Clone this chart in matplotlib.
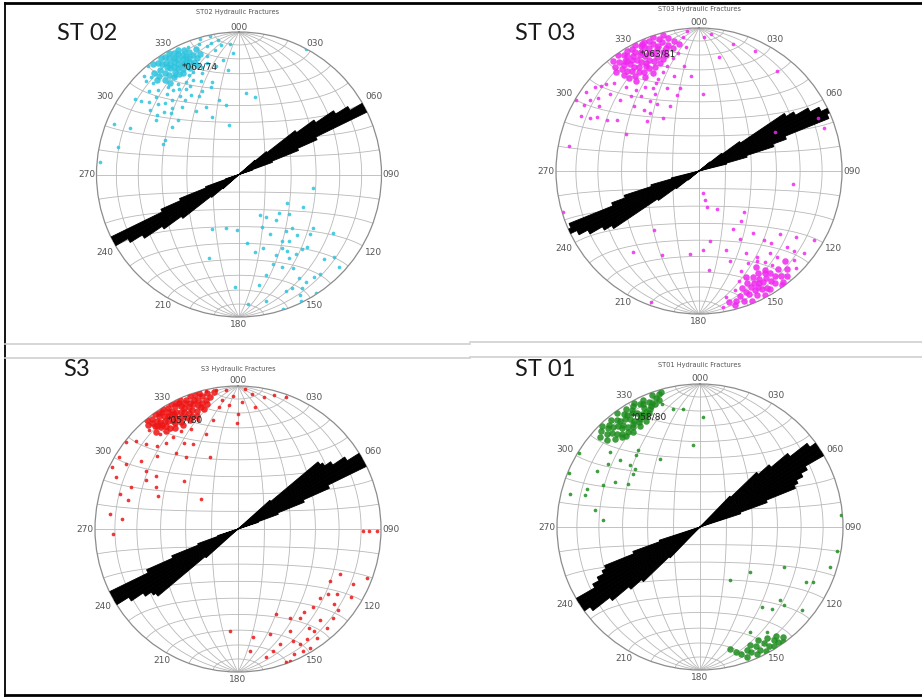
import numpy as np
import matplotlib
matplotlib.use("Agg")
import matplotlib.pyplot as plt
from matplotlib.lines import Line2D

FIG_W, FIG_H = 922, 700

# ---------------- text / categories ----------------
PANEL_LABELS = ["ST 02", "ST 03", "S3", "ST 01"]
PANEL_TITLES = ["ST02 Hydraulic Fractures", "ST03 Hydraulic Fractures",
                "S3 Hydraulic Fractures", "ST01 Hydraulic Fractures"]
MEAN_PLANES = ["062/74", "063/81", "057/80", "058/80"]      # strike/dip of mean plane
POINT_COLORS = ["#2cc3de", "#f028f0", "#ee1414", "#1e8c1e"]
AZIMUTH_TICKS = [0, 30, 60, 90, 120, 150, 180, 210, 240, 270, 300, 330]
AZIMUTH_LABELS = ["000", "030", "060", "090", "120", "150",
                  "180", "210", "240", "270", "300", "330"]

# ---------------- rose diagrams (2 deg bins, relative length) ----------------
ROSE_BINS = [45, 47, 49, 51, 53, 55, 57, 59, 61, 63, 65, 67, 69, 71, 73, 75]
ROSE_ST02 = [0.00, 0.00, 0.15, 0.25, 0.50, 0.65, 0.80, 0.90, 1.00, 1.00, 0.60, 0.45, 0.25, 0.10, 0.00, 0.00]
ROSE_ST03 = [0.00, 0.00, 0.00, 0.10, 0.20, 0.35, 0.72, 0.78, 0.88, 0.95, 1.00, 0.98, 0.65, 0.55, 0.35, 0.20]
ROSE_S3 = [0.00, 0.00, 0.30, 0.73, 0.75, 0.80, 0.90, 1.00, 1.02, 1.00, 0.70, 0.50, 0.30, 0.15, 0.00, 0.00]
ROSE_ST01 = [0.30, 0.55, 0.65, 0.80, 0.95, 1.00, 1.02, 1.00, 0.85, 0.80, 0.75, 0.72, 0.50, 0.30, 0.00, 0.00]

# ---------------- poles (trend, plunge) ----------------
ST02_CORE = [
    (322, 2), (324, 4), (326, 2), (328, 3), (330, 2), (332, 4), (334, 3), (336, 5), (325, 6), (327, 7),
    (329, 5), (331, 7), (333, 6), (335, 8), (323, 9), (326, 10), (328, 9), (330, 10), (332, 9), (334, 11),
    (336, 10), (338, 8), (321, 12), (324, 13), (327, 12), (329, 13), (331, 12), (333, 14), (335, 13), (337, 12),
    (339, 11), (340, 14), (325, 16), (328, 16), (330, 15), (332, 17), (334, 16), (336, 15), (338, 16), (322, 17),
    (326, 19), (329, 19), (331, 20), (335, 19), (339, 19), (342, 12), (341, 8), (320, 8), (319, 13), (323, 21)]
ST02_SPREAD = [
    (307, 15), (306, 24), (316, 19), (314, 29), (312, 36), (324, 36), (333, 38), (334, 46), (335, 53),
    (345, 45), (348, 61), (349, 49), (312, 42), (334, 27), (340, 25), (348, 23), (352, 20), (354, 27),
    (357, 16), (356, 9), (348, 1), (344, 1), (351, 5), (5, 42), (12, 44), (295, 42), (292, 42), (292, 6),
    (293, 18), (283, 14), (275, 2), (306, 11), (303, 31), (305, 42), (28, 0), (348, 6), (320, 1), (315, 8),
    (328, 30), (326, 45), (323, 32), (321, 22), (313, 21), (344, 33), (336, 36), (327, 19), (337, 16),
    (318, 25), (322, 26), (326, 24), (330, 26), (333, 23), (336, 22), (341, 21), (344, 20), (318, 30),
    (325, 28), (331, 30), (338, 30), (342, 36), (315, 34), (320, 38), (329, 35), (317, 13), (313, 15),
    (309, 20), (311, 26), (343, 5), (346, 8), (338, 4), (316, 4), (318, 9), (345, 15), (349, 12), (352, 9),
    (310, 32), (306, 30)]
ST02_SOUTH = [
    (206, 55), (194, 58), (182, 58), (173, 50), (153, 64), (148, 61), (156, 57), (153, 51), (141, 56),
    (121, 58), (128, 53), (135, 46), (117, 48), (100, 46), (126, 36), (130, 35), (137, 31), (140, 32),
    (144, 32), (149, 32), (148, 37), (150, 40), (155, 38), (159, 33), (155, 29), (150, 25), (150, 17),
    (148, 12), (144, 12), (151, 10), (155, 13), (158, 13), (153, 6), (147, 1), (135, 17), (122, 23),
    (133, 5), (141, 11), (162, 45), (168, 44), (165, 28), (170, 22), (168, 10), (176, 10), (182, 22),
    (200, 38), (154, 1), (162, 1), (147, 44), (143, 41), (136, 41), (140, 47), (134, 58), (131, 13)]

ST03_CORE = [
    (322, 3), (325, 1), (327, 4), (329, 2), (331, 3), (333, 1), (335, 4), (337, 2), (339, 3), (341, 1),
    (343, 4), (345, 2), (347, 5), (321, 7), (324, 6), (326, 8), (328, 6), (330, 8), (332, 6), (334, 8),
    (336, 6), (338, 8), (340, 6), (342, 9), (344, 7), (346, 10), (349, 8), (320, 11), (323, 12), (325, 10),
    (327, 12), (329, 10), (331, 12), (333, 10), (335, 12), (337, 11), (339, 13), (341, 11), (343, 14), (345, 12),
    (348, 13), (351, 11), (322, 16), (324, 15), (326, 17), (328, 15), (330, 17), (332, 15), (334, 17), (336, 16),
    (338, 18), (340, 16), (342, 19), (344, 17), (323, 20), (326, 21), (329, 20), (331, 22), (334, 21), (337, 22),
    (340, 21), (325, 24), (330, 25), (335, 25), (333, 19), (327, 9), (336, 3)]
ST03_SPREAD = [
    (300, 1), (305, 4), (311, 10), (295, 10), (298, 20), (299, 27), (281, 8), (297, 42), (326, 53),
    (336, 49), (318, 42), (325, 40), (347, 40), (3, 45), (2, 7), (5, 4), (15, 9), (10, 20), (25, 8),
    (38, 12), (303, 10), (311, 19), (312, 27), (319, 23), (322, 29), (334, 32), (345, 32), (352, 27),
    (354, 14), (355, 34), (328, 44), (314, 48), (253, 1), (66, 10), (71, 8), (63, 40), (98, 34),
    (318, 30), (322, 34), (327, 31), (331, 34), (336, 30), (340, 27), (343, 24), (347, 20), (350, 17),
    (353, 6), (355, 2), (316, 16), (313, 12), (309, 7), (306, 14), (303, 18), (300, 8), (296, 16),
    (315, 36), (320, 46), (330, 38), (339, 38), (344, 44), (302, 33)]
ST03_SOUTH_CORE = [
    (140, 5), (143, 3), (146, 6), (149, 4), (152, 7), (155, 5), (158, 8), (161, 4), (164, 6), (144, 10),
    (147, 9), (150, 11), (153, 10), (156, 12), (159, 10), (162, 9), (141, 13), (145, 14), (148, 13), (151, 15),
    (154, 14), (157, 16), (160, 14), (146, 18), (150, 19), (153, 18), (156, 20), (149, 23), (152, 2), (158, 2),
    (165, 3), (167, 7), (138, 9), (136, 14), (142, 8), (155, 9), (150, 6), (147, 16), (152, 12), (144, 2)]
ST03_SOUTH = [
    (169, 77), (168, 73), (168, 69), (155, 66), (132, 55), (140, 52), (150, 51), (149, 44), (161, 41),
    (161, 34), (174, 31), (177, 44), (171, 49), (186, 41), (204, 36), (217, 47), (219, 28), (139, 42),
    (137, 34), (139, 25), (131, 20), (128, 8), (121, 7), (124, 19), (150, 34), (147, 26), (128, 29), (200, 3),
    (133, 10), (135, 5), (130, 14), (142, 18), (138, 20), (144, 22), (160, 19), (163, 14), (168, 11),
    (170, 4), (146, 28), (152, 28), (157, 25), (135, 30)]

S3_CORE = [
    (320, 1), (322, 3), (324, 1), (326, 2), (328, 1), (330, 3), (332, 1), (334, 2), (336, 1), (338, 3),
    (340, 1), (342, 2), (321, 5), (323, 6), (325, 4), (327, 6), (329, 5), (331, 6), (333, 4), (335, 6),
    (337, 5), (339, 6), (341, 5), (343, 6), (345, 4), (322, 9), (324, 8), (326, 10), (328, 8), (330, 9),
    (332, 8), (334, 10), (336, 8), (338, 9), (340, 8), (342, 10), (344, 9), (346, 8), (323, 12), (325, 13),
    (327, 11), (329, 13), (331, 12), (333, 13), (335, 11), (337, 13), (339, 12), (341, 14), (343, 12), (326, 16),
    (329, 15), (332, 16), (335, 15), (338, 16), (327, 3), (331, 9), (335, 3), (324, 11), (344, 1), (347, 3),
    (319, 4), (321, 8), (320, 12), (324, 16), (328, 18), (332, 19), (336, 18), (340, 17), (344, 14),
    (346, 11), (348, 6), (350, 3)]
S3_SPREAD = [
    (347, 1), (351, 1.5), (355, 3), (358, 7.5), (3, 2.5), (6, 5.5), (11, 6.5), (0, 20.5), (359.5, 27),
    (344, 3), (351, 15), (347, 23), (341.6, 30.5), (332, 33), (328, 30), (324, 38), (320.6, 32), (324.7, 22),
    (320, 23), (320.5, 15), (318, 8), (313, 13.5), (311, 6.5), (308, 1), (301, 3), (296, 2), (300, 10.5),
    (293, 8), (286.5, 15), (276.7, 10.5), (275, 20), (267.7, 13.5), (284.7, 21.5), (297, 36), (292.6, 39),
    (312, 48), (309, 63), (338.4, 45), (303, 32), (291.6, 21),
    (353, 10), (356, 14), (2, 12), (8, 15), (15, 3), (20, 2), (340, 20), (335, 24), (330, 22), (316, 20),
    (312, 25), (305, 18), (302, 25), (298, 28)]
S3_SOUTH = [
    (90.8, 13.5), (90.7, 9), (90.7, 3), (110.6, 4), (114, 23), (126, 23.5), (148, 10), (160, 1), (128, 16),
    (133, 10), (138, 15), (143.6, 12), (151.8, 9.5), (148.8, 3), (151.9, 3.5), (156, 4.5), (158.6, 1),
    (164, 12), (160, 15.5), (153, 21), (145, 25), (141.5, 27), (136, 25), (130, 26), (119.4, 27), (123.5, 18.5),
    (121, 9), (149.7, 29), (155.7, 35), (172, 24.5), (174.5, 15.5), (184.7, 29), (163, 24), (167.5, 9),
    (138, 8), (144, 6.5), (144.6, 16), (153.8, 14), (129, 10.5), (115.6, 11.5)]

ST01_CORE = [
    (314, 4), (316, 2), (318, 5), (320, 3), (322, 6), (324, 2), (326, 5), (328, 3), (330, 6), (332, 2),
    (334, 5), (336, 3), (338, 6), (340, 2), (315, 9), (317, 11), (319, 8), (321, 10), (323, 12), (325, 9),
    (327, 11), (329, 8), (331, 10), (333, 12), (335, 9), (337, 11), (339, 8), (318, 14), (320, 16), (322, 13),
    (324, 15), (326, 17), (328, 14), (330, 16), (332, 13), (334, 15), (336, 14), (321, 19), (325, 20), (329, 19),
    (333, 18), (327, 7), (331, 4), (323, 8), (335, 6), (317, 6), (341, 5), (343, 3), (312, 7),
    (313, 12), (316, 16), (319, 18), (323, 18), (327, 15), (331, 15), (335, 12), (338, 10), (340, 9),
    (342, 7), (344, 2)]
ST01_SPREAD = [
    (301.4, 1), (292.3, 1.2), (284.4, 7), (288.7, 17.5), (298.7, 19), (293.3, 27), (297.9, 33), (301.2, 41),
    (311.9, 38.8), (279, 26.5), (274, 32.5), (309.8, 19.5), (321.2, 31.5), (329.7, 44), (342.7, 10.5),
    (347.3, 16.5), (352, 17.5), (355.3, 42), (1.7, 24), (308.7, 40), (309.8, 28), (311.4, 35), (304.6, 23),
    (285.4, 18), (318.5, 33)]
ST01_SOUTH = [
    (85, 1), (100, 3), (107, 5.5), (115.6, 35.5), (132, 51), (116, 13), (117.3, 17.5), (132.5, 25),
    (142.4, 30), (129, 9), (138.7, 25), (154.5, 20), (147.6, 14), (150.6, 55), (133, 21)]
ST01_SOUTH_CORE = [
    (144, 1), (146, 3), (148, 2), (150, 4), (152, 2), (154, 5), (156, 3), (158, 6), (160, 4), (162, 7),
    (147, 6), (151, 8), (155, 9), (149, 10), (153, 12), (157, 11), (145, 8), (143, 4), (159, 9), (164, 10),
    (166, 13)]

PANEL_DENSE = [ST02_CORE, ST03_CORE + ST03_SOUTH_CORE, S3_CORE, ST01_CORE + ST01_SOUTH_CORE]
PANEL_SPARSE = [ST02_SPREAD + ST02_SOUTH, ST03_SPREAD + ST03_SOUTH,
                S3_SPREAD + S3_SOUTH, ST01_SPREAD + ST01_SOUTH]
PANEL_ROSES = [ROSE_ST02, ROSE_ST03, ROSE_S3, ROSE_ST01]

# ---------------- layout (pixels) ----------------
CIRCLES = [(239, 174.5, 142.5), (699, 171, 143), (238, 529, 143), (700, 527, 143)]
TITLE_POS = [(238, 12), (700, 9), (238, 369), (700, 365)]
NAME_POS = [(57, 34), (515, 34), (63, 370), (515, 370)]
LABEL_R = {0: 1.035, 180: 1.055, 90: 1.07, 270: 1.07,
           60: 1.09, 120: 1.09, 240: 1.09, 300: 1.09,
           30: 1.065, 150: 1.065, 210: 1.065, 330: 1.065}


def eq_area_r(plunge_deg):
    return np.sqrt(2.0) * np.sin(np.radians(90.0 - np.asarray(plunge_deg, float)) / 2.0)


def net_curve(lam, phi):
    k = np.sqrt(1.0 / (1.0 + np.cos(phi) * np.cos(lam)))
    x = k * np.cos(phi) * np.sin(lam)
    y = k * np.sin(phi)
    th = np.unwrap(np.arctan2(x, y))
    return th, np.hypot(x, y)


fig = plt.figure(figsize=(FIG_W / 100, FIG_H / 100), dpi=100)
fig.patch.set_facecolor("white")

GRID_C = "#b8b8b8"
for i in range(4):
    cx, cy, R = CIRCLES[i]
    rect = [(cx - R) / FIG_W, 1 - (cy + R) / FIG_H, 2 * R / FIG_W, 2 * R / FIG_H]
    ax = fig.add_axes(rect, projection="polar")
    ax.set_theta_zero_location("N")
    ax.set_theta_direction(-1)
    ax.grid(False)
    ax.set_xticks([])
    ax.set_yticks([])
    ax.spines["polar"].set_edgecolor("#8c8c8c")
    ax.spines["polar"].set_linewidth(0.9)

    # Schmidt net: meridians every 15 deg, parallels every 10 deg
    t = np.radians(np.linspace(-89.9, 89.9, 361))
    for lam_d in range(-75, 76, 15):
        if lam_d == 0:
            continue
        th, r = net_curve(np.radians(lam_d), t)
        ax.plot(th, r, color=GRID_C, lw=0.6, zorder=1)
    for phi_d in range(-80, 81, 10):
        if phi_d == 0:
            continue
        th, r = net_curve(t, np.radians(phi_d))
        ax.plot(th, r, color=GRID_C, lw=0.6, zorder=1)
    for a in (0, 90, 180, 270):
        ax.plot([np.radians(a)] * 2, [0, 1], color=GRID_C, lw=0.6, zorder=1)

    # rose diagram (bidirectional)
    lens = np.array(PANEL_ROSES[i])
    bins = np.radians(np.array(ROSE_BINS, float))
    for off in (0.0, np.pi):
        ax.bar(bins + off, lens, width=np.radians(2.0), bottom=0.0, color="black",
               edgecolor="black", linewidth=0.6, zorder=3, align="center")

    # poles
    col = POINT_COLORS[i]
    dense = np.array(PANEL_DENSE[i], float)
    sparse = np.array(PANEL_SPARSE[i], float)
    ax.scatter(np.radians(sparse[:, 0]), eq_area_r(sparse[:, 1]), s=7, marker="o",
               color=col, linewidths=0, alpha=0.85, zorder=4)
    ax.scatter(np.radians(dense[:, 0]), eq_area_r(dense[:, 1]), s=22, marker="o",
               color=col, linewidths=0, alpha=0.85, zorder=4)

    # mean plane label at its pole
    strike, dip = (int(v) for v in MEAN_PLANES[i].split("/"))
    ax.text(np.radians((strike - 90) % 360), eq_area_r(90 - dip), "*" + MEAN_PLANES[i],
            ha="left", va="center", fontsize=6.5, color="#222222", zorder=6)

    for az, lab in zip(AZIMUTH_TICKS, AZIMUTH_LABELS):
        ax.text(np.radians(az), LABEL_R[az], lab, ha="center", va="center",
                fontsize=6.5, color="#555555", clip_on=False)
    ax.set_ylim(0, 1)

    tx, ty = TITLE_POS[i]
    fig.text(tx / FIG_W, 1 - ty / FIG_H, PANEL_TITLES[i], ha="center", va="center",
             fontsize=4.8, color="#555555")
    nx, ny = NAME_POS[i]
    fig.text(nx / FIG_W, 1 - ny / FIG_H, PANEL_LABELS[i], ha="left", va="center",
             fontsize=17, color="#1a1a1a", family="Lato")


def fig_line(x0, y0, x1, y1, **kw):
    fig.add_artist(Line2D([x0 / FIG_W, x1 / FIG_W], [1 - y0 / FIG_H, 1 - y1 / FIG_H],
                          transform=fig.transFigure, **kw))


fig_line(5, 3, 922, 3, color="black", lw=2.0)
fig_line(5, 3, 5, 696, color="black", lw=1.3)
fig_line(5, 695, 922, 695, color="black", lw=2.0)
fig_line(5, 344, 470, 344, color="#cfcfcf", lw=1.2)
fig_line(470, 342, 922, 342, color="#cfcfcf", lw=1.2)
fig_line(5, 358, 470, 358, color="#cfcfcf", lw=1.2)
fig_line(470, 357, 922, 357, color="#cfcfcf", lw=1.2)

fig.savefig("out.png", dpi=100, facecolor="white")
